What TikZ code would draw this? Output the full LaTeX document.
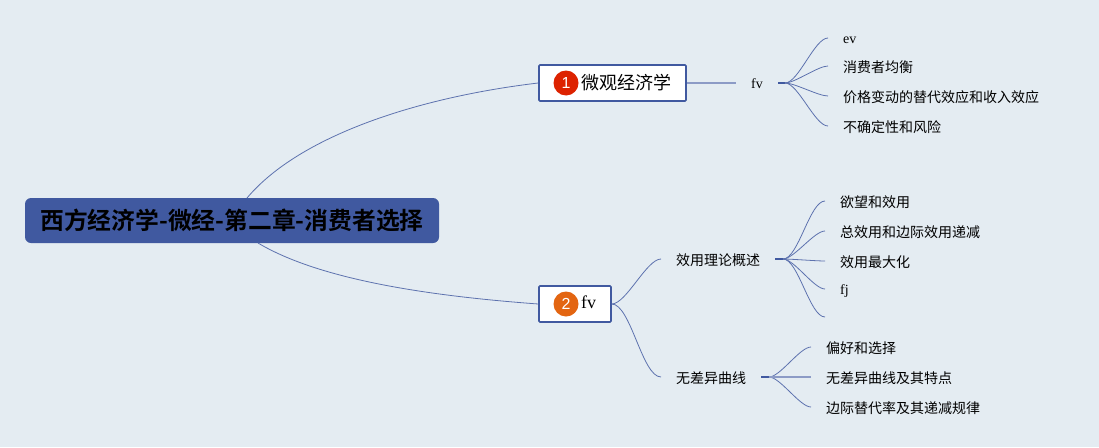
\documentclass[tikz,border=0pt]{standalone}
\usepackage{fontspec}
\setmainfont{Liberation Serif}
\setsansfont{Liberation Sans}
\newfontfamily\cjk{Noto Sans CJK SC}
\newfontfamily\cjkbold{Noto Sans CJK SC Bold}
\definecolor{bgblue}{HTML}{E4ECF2}
\definecolor{mapblue}{HTML}{4059A0}
\definecolor{badgered}{HTML}{DD2200}
\definecolor{badgeorange}{HTML}{E36511}
\tikzset{
    rootnode/.style={fill=mapblue, rounded corners=6pt, minimum width=414pt, minimum height=45pt, inner sep=0pt, font=\cjkbold\fontsize{23.8}{24}\selectfont},
    topicnode/.style={draw=mapblue, line width=1.6pt, fill=white, rounded corners=1pt, minimum height=36pt, inner sep=0pt},
    badgenode/.style={circle, minimum size=25pt, inner sep=0pt, text=white, font=\sffamily\fontsize{16}{16}\selectfont},
    subnode/.style={inner xsep=15pt, inner ysep=0pt, text height=12.6pt, text depth=0pt, anchor=west, font=\cjk\fontsize{14}{16}\selectfont},
    leafnode/.style={subnode},
    latinleaf/.style={subnode, text height=10pt, font=\fontsize{14}{16}\selectfont},
    branch/.style={draw=mapblue!85!white, line width=0.8pt},
    stub/.style={draw=mapblue, line width=1.4pt},
    flat/.style={draw=mapblue!60!white, line width=1.3pt},
    curve/.style={out=0, in=180, looseness=0.55}
}
\begin{document}
\begin{tikzpicture}[x=1pt, y=-1pt]
    \useasboundingbox[fill=bgblue] (0,0) rectangle (1099,447);
    % root
    \node[rootnode] (root) at (232,220.5) {西方经济学-微经-第二章-消费者选择};
    \coordinate (roottop) at (247,198);
    \coordinate (rootbot) at (258,243);
    % first topic
    \node[topicnode, minimum width=147pt] (micro) at (612.5,83) {};
    \node[badgenode, fill=badgered] (badgeone) at (566,83) {1};
    \node[anchor=west, inner sep=0pt, font=\cjk\fontsize{18}{18}\selectfont] (microtext) at (581,83) {微观经济学};
    \node[inner sep=0pt, font=\fontsize{14}{14}\selectfont] (fvone) at (757,84) {fv};
    \coordinate (forkone) at (778,83);
    \coordinate (hubone) at (785,83);
    \node[latinleaf] (ev) at (828,38) {ev};
    \node[leafnode] (balance) at (828,66) {消费者均衡};
    \node[leafnode] (price) at (828,96) {价格变动的替代效应和收入效应};
    \node[leafnode] (risk) at (828,126) {不确定性和风险};
    % second topic
    \node[topicnode, minimum width=72pt] (second) at (575,304) {};
    \node[badgenode, fill=badgeorange] (badgetwo) at (566,304) {2};
    \node[anchor=west, inner sep=0pt, font=\fontsize{18}{18}\selectfont] (fvtwo) at (581,302) {fv};
    \node[subnode] (theory) at (661,259) {效用理论概述};
    \node[subnode] (curves) at (661,377) {无差异曲线};
    \coordinate (forktwo) at (775,259);
    \coordinate (hubtwo) at (783,259);
    \node[leafnode] (desire) at (825,201) {欲望和效用};
    \node[leafnode] (total) at (825,231) {总效用和边际效用递减};
    \node[leafnode] (maxim) at (825,261) {效用最大化};
    \node[latinleaf] (fj) at (825,289) {fj};
    \node[leafnode] (blank) at (825,317) {};
    \coordinate (forkthree) at (761,377);
    \coordinate (hubthree) at (769,377);
    \node[leafnode] (prefer) at (811,347) {偏好和选择};
    \node[leafnode] (indiff) at (811,377) {无差异曲线及其特点};
    \node[leafnode] (margin) at (811,407) {边际替代率及其递减规律};
    % connectors
    \draw[branch] (roottop) .. controls (300,135) and (420,97) .. (micro.west);
    \draw[branch] (rootbot) .. controls (320,280) and (430,296) .. (second.west);
    \draw[flat] (micro.east) -- (736,83);
    \draw[stub] (forkone) -- (hubone);
    \draw[stub] (forktwo) -- (hubtwo);
    \draw[stub] (forkthree) -- (hubthree);
    \foreach \leaf in {ev,balance,price,risk}
        \draw[branch] (hubone) to[curve] (\leaf.west);
    \foreach \leaf in {desire,total,maxim,fj,blank}
        \draw[branch] (hubtwo) to[curve] (\leaf.west);
    \foreach \leaf in {prefer,margin}
        \draw[branch] (hubthree) to[curve] (\leaf.west);
    \draw[flat] (hubthree) -- (indiff.west);
    \foreach \leaf in {theory,curves}
        \draw[branch] (second.east) to[curve] (\leaf.west);
\end{tikzpicture}
\end{document}
